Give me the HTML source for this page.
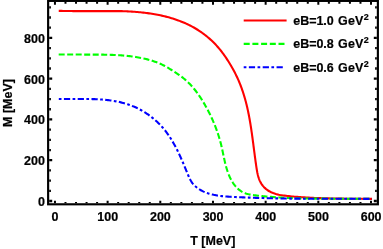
<!DOCTYPE html>
<html><head><meta charset="utf-8"><style>
html,body{margin:0;padding:0;background:#fff;}
svg{display:block;will-change:transform;}
text{font-family:"Liberation Sans",sans-serif;font-weight:bold;font-size:12px;fill:#000;stroke:#000;stroke-width:0.2px;}
</style></head><body>
<svg width="383" height="249" viewBox="0 0 383 249">
<rect width="383" height="249" fill="#fff"/>
<path d="M58.73,10.83 L60.15,10.87 L61.58,10.92 L63.01,10.95 L64.44,10.98 L65.87,11.01 L67.30,11.03 L68.74,11.05 L70.17,11.06 L71.60,11.07 L73.04,11.08 L74.47,11.08 L75.90,11.08 L77.34,11.08 L78.77,11.08 L80.21,11.08 L81.64,11.08 L83.08,11.08 L84.52,11.08 L85.95,11.08 L87.39,11.08 L88.83,11.08 L90.26,11.08 L91.70,11.08 L93.14,11.08 L94.58,11.08 L96.01,11.08 L97.45,11.08 L98.89,11.08 L100.33,11.08 L101.76,11.08 L103.20,11.08 L104.64,11.08 L106.08,11.08 L107.51,11.08 L108.95,11.08 L110.39,11.08 L111.82,11.08 L113.26,11.08 L114.70,11.08 L116.13,11.08 L117.57,11.08 L119.00,11.08 L120.44,11.09 L121.87,11.13 L123.31,11.18 L124.74,11.24 L126.17,11.30 L127.61,11.37 L129.04,11.45 L130.47,11.53 L131.90,11.62 L133.33,11.72 L134.76,11.82 L136.19,11.94 L137.62,12.06 L139.05,12.19 L140.47,12.33 L141.90,12.47 L143.32,12.63 L144.75,12.80 L146.17,12.97 L147.60,13.16 L149.02,13.36 L150.44,13.56 L151.86,13.78 L153.28,14.01 L154.69,14.25 L156.11,14.51 L157.52,14.77 L158.93,15.05 L160.33,15.34 L161.73,15.64 L163.13,15.96 L164.53,16.29 L165.92,16.63 L167.31,16.99 L168.69,17.36 L170.07,17.74 L171.45,18.15 L172.82,18.56 L174.18,18.99 L175.54,19.44 L176.89,19.91 L178.24,20.39 L179.58,20.88 L180.91,21.40 L182.24,21.93 L183.56,22.48 L184.88,23.05 L186.18,23.63 L187.48,24.23 L188.77,24.86 L190.05,25.50 L191.33,26.16 L192.59,26.84 L193.85,27.54 L195.10,28.26 L196.34,29.00 L197.57,29.76 L198.79,30.54 L199.99,31.34 L201.19,32.16 L202.37,33.00 L203.55,33.85 L204.70,34.73 L205.85,35.62 L206.98,36.53 L208.09,37.45 L209.19,38.39 L210.27,39.35 L211.33,40.32 L212.37,41.31 L213.40,42.31 L214.41,43.32 L215.40,44.35 L216.37,45.39 L217.32,46.44 L218.25,47.51 L219.16,48.59 L220.06,49.68 L220.95,50.78 L221.82,51.90 L222.67,53.03 L223.52,54.17 L224.34,55.32 L225.16,56.49 L225.97,57.66 L226.76,58.85 L227.55,60.05 L228.32,61.26 L229.09,62.48 L229.84,63.71 L230.59,64.95 L231.32,66.20 L232.04,67.46 L232.76,68.72 L233.45,70.00 L234.14,71.28 L234.81,72.57 L235.47,73.86 L236.12,75.17 L236.75,76.47 L237.36,77.79 L237.96,79.10 L238.54,80.42 L239.11,81.75 L239.66,83.08 L240.19,84.41 L240.71,85.75 L241.22,87.09 L241.71,88.43 L242.18,89.78 L242.65,91.13 L243.10,92.49 L243.53,93.85 L243.96,95.21 L244.37,96.58 L244.77,97.94 L245.15,99.32 L245.53,100.69 L245.90,102.07 L246.25,103.45 L246.59,104.83 L246.93,106.22 L247.25,107.61 L247.56,109.00 L247.87,110.39 L248.17,111.79 L248.45,113.18 L248.73,114.58 L249.01,115.99 L249.27,117.39 L249.53,118.80 L249.78,120.21 L250.02,121.62 L250.26,123.03 L250.49,124.45 L250.72,125.86 L250.94,127.28 L251.16,128.70 L251.37,130.12 L251.58,131.54 L251.79,132.96 L251.99,134.39 L252.19,135.81 L252.38,137.24 L252.57,138.67 L252.77,140.10 L252.95,141.53 L253.14,142.96 L253.33,144.39 L253.51,145.82 L253.70,147.25 L253.88,148.68 L254.07,150.11 L254.26,151.55 L254.44,152.98 L254.63,154.41 L254.82,155.85 L255.01,157.28 L255.20,158.71 L255.40,160.15 L255.60,161.58 L255.80,163.01 L256.01,164.44 L256.21,165.87 L256.43,167.31 L256.65,168.74 L256.88,170.16 L257.13,171.58 L257.40,172.99 L257.71,174.39 L258.06,175.78 L258.44,177.14 L258.89,178.49 L259.38,179.82 L259.94,181.12 L260.57,182.37 L261.27,183.59 L262.05,184.76 L262.90,185.86 L263.82,186.91 L264.80,187.91 L265.85,188.84 L266.96,189.71 L268.11,190.52 L269.32,191.26 L270.57,191.93 L271.86,192.54 L273.19,193.08 L274.54,193.56 L275.92,193.99 L277.33,194.36 L278.75,194.68 L280.19,194.97 L281.64,195.22 L283.09,195.44 L284.55,195.64 L286.00,195.82 L287.45,195.99 L288.89,196.14 L290.32,196.29 L291.75,196.43 L293.18,196.56 L294.61,196.68 L296.04,196.80 L297.46,196.91 L298.89,197.02 L300.32,197.12 L301.75,197.22 L303.17,197.32 L304.60,197.41 L306.03,197.50 L307.46,197.58 L308.89,197.66 L310.32,197.73 L311.75,197.81 L313.18,197.87 L314.61,197.94 L316.04,198.00 L317.47,198.06 L318.91,198.11 L320.34,198.16 L321.77,198.21 L323.20,198.26 L324.63,198.30 L326.07,198.34 L327.50,198.38 L328.93,198.42 L330.37,198.45 L331.80,198.48 L333.23,198.51 L334.67,198.54 L336.10,198.57 L337.54,198.59 L338.97,198.61 L340.41,198.63 L341.84,198.65 L343.28,198.67 L344.71,198.68 L346.15,198.70 L347.58,198.71 L349.02,198.73 L350.45,198.74 L351.89,198.75 L353.33,198.76 L354.76,198.77 L356.20,198.78 L357.64,198.79 L359.07,198.80 L360.51,198.81 L361.95,198.82 L363.38,198.83 L364.82,198.84 L366.26,198.85 L367.69,198.86 L369.13,198.87 L370.57,198.88 L372.00,198.90" fill="none" stroke="#ff0000" stroke-width="2.1" stroke-linejoin="round"/>
<path d="M58.68,54.57 L60.00,54.57 L61.32,54.57 L62.64,54.57 L63.95,54.57 L65.26,54.57 L66.58,54.57 L67.88,54.57 L69.19,54.57 L70.50,54.57 L71.81,54.57 L73.11,54.57 L74.42,54.57 L75.72,54.57 L77.02,54.57 L78.33,54.57 L79.63,54.57 L80.93,54.57 L82.24,54.57 L83.54,54.57 L84.84,54.58 L86.15,54.58 L87.46,54.58 L88.76,54.59 L90.07,54.59 L91.38,54.59 L92.69,54.59 L94.00,54.59 L95.31,54.60 L96.62,54.60 L97.94,54.61 L99.25,54.62 L100.56,54.63 L101.88,54.64 L103.19,54.66 L104.50,54.68 L105.82,54.70 L107.13,54.73 L108.44,54.76 L109.76,54.79 L111.07,54.84 L112.38,54.88 L113.69,54.93 L115.00,54.99 L116.31,55.06 L117.62,55.13 L118.93,55.21 L120.24,55.29 L121.55,55.38 L122.85,55.49 L124.16,55.60 L125.46,55.71 L126.76,55.84 L128.06,55.98 L129.36,56.12 L130.65,56.28 L131.95,56.45 L133.24,56.63 L134.53,56.81 L135.82,57.02 L137.11,57.23 L138.39,57.45 L139.68,57.69 L140.96,57.94 L142.23,58.20 L143.51,58.48 L144.78,58.77 L146.05,59.07 L147.32,59.39 L148.58,59.72 L149.84,60.07 L151.10,60.44 L152.35,60.82 L153.59,61.22 L154.83,61.64 L156.06,62.08 L157.28,62.54 L158.49,63.03 L159.69,63.53 L160.89,64.06 L162.07,64.61 L163.24,65.19 L164.40,65.79 L165.55,66.41 L166.68,67.05 L167.82,67.71 L168.94,68.38 L170.07,69.06 L171.18,69.75 L172.30,70.44 L173.42,71.14 L174.53,71.86 L175.63,72.58 L176.73,73.31 L177.82,74.05 L178.90,74.80 L179.97,75.57 L181.03,76.35 L182.07,77.14 L183.11,77.95 L184.12,78.78 L185.13,79.62 L186.11,80.48 L187.08,81.36 L188.03,82.25 L188.96,83.16 L189.87,84.09 L190.77,85.04 L191.65,86.00 L192.51,86.98 L193.36,87.97 L194.19,88.98 L195.01,89.99 L195.82,91.02 L196.61,92.07 L197.38,93.12 L198.15,94.18 L198.90,95.26 L199.63,96.34 L200.36,97.43 L201.08,98.53 L201.78,99.64 L202.47,100.75 L203.16,101.87 L203.83,103.00 L204.49,104.13 L205.15,105.26 L205.79,106.40 L206.43,107.54 L207.05,108.69 L207.67,109.84 L208.28,110.99 L208.88,112.15 L209.47,113.32 L210.04,114.49 L210.61,115.66 L211.17,116.84 L211.72,118.02 L212.26,119.21 L212.79,120.40 L213.31,121.59 L213.82,122.79 L214.32,123.99 L214.81,125.20 L215.29,126.41 L215.76,127.63 L216.22,128.85 L216.67,130.08 L217.10,131.31 L217.53,132.54 L217.95,133.78 L218.35,135.02 L218.75,136.27 L219.13,137.52 L219.50,138.78 L219.87,140.04 L220.22,141.30 L220.56,142.57 L220.89,143.84 L221.21,145.12 L221.51,146.40 L221.81,147.69 L222.10,148.98 L222.38,150.27 L222.66,151.57 L222.93,152.86 L223.21,154.16 L223.48,155.45 L223.75,156.75 L224.03,158.04 L224.31,159.33 L224.60,160.62 L224.89,161.90 L225.20,163.18 L225.51,164.45 L225.84,165.72 L226.19,166.98 L226.55,168.24 L226.93,169.48 L227.33,170.72 L227.75,171.95 L228.19,173.17 L228.65,174.38 L229.15,175.57 L229.67,176.76 L230.22,177.93 L230.80,179.09 L231.41,180.23 L232.06,181.36 L232.74,182.47 L233.46,183.57 L234.22,184.63 L235.02,185.67 L235.86,186.67 L236.73,187.63 L237.65,188.54 L238.61,189.40 L239.61,190.21 L240.65,190.95 L241.74,191.63 L242.87,192.23 L244.04,192.77 L245.25,193.24 L246.49,193.65 L247.75,194.01 L249.02,194.32 L250.31,194.60 L251.61,194.84 L252.92,195.04 L254.23,195.23 L255.55,195.39 L256.87,195.55 L258.19,195.69 L259.51,195.84 L260.82,195.97 L262.14,196.11 L263.46,196.23 L264.77,196.36 L266.09,196.48 L267.40,196.59 L268.72,196.70 L270.03,196.81 L271.34,196.91 L272.65,197.01 L273.97,197.11 L275.28,197.20 L276.59,197.29 L277.90,197.37 L279.21,197.45 L280.52,197.53 L281.83,197.61 L283.14,197.68 L284.44,197.74 L285.75,197.81 L287.06,197.87 L288.36,197.93 L289.67,197.98 L290.98,198.04 L292.28,198.09 L293.59,198.14 L294.89,198.18 L296.20,198.22 L297.50,198.26 L298.81,198.30 L300.11,198.33 L301.42,198.37 L302.72,198.40 L304.03,198.43 L305.33,198.45 L306.63,198.48 L307.94,198.50 L309.24,198.52 L310.54,198.54 L311.85,198.56 L313.15,198.57 L314.45,198.59 L315.76,198.60 L317.06,198.61 L318.36,198.62 L319.67,198.63 L320.97,198.64 L322.27,198.65 L323.58,198.66 L324.88,198.66 L326.19,198.67 L327.49,198.67 L328.79,198.67 L330.10,198.68 L331.40,198.68 L332.71,198.68 L334.01,198.68 L335.32,198.68 L336.62,198.68 L337.93,198.68 L339.23,198.68 L340.54,198.69 L341.85,198.69 L343.15,198.69 L344.46,198.69 L345.77,198.69 L347.07,198.69 L348.38,198.69 L349.69,198.70 L351.00,198.70 L352.31,198.71 L353.62,198.71 L354.93,198.72 L356.24,198.72 L357.55,198.73 L358.87,198.74 L360.18,198.75 L361.49,198.76 L362.80,198.77 L364.12,198.79 L365.43,198.80 L366.75,198.82 L368.07,198.84 L369.38,198.86 L370.70,198.88 L372.02,198.90" fill="none" stroke="#00ff00" stroke-width="2.1" stroke-dasharray="6 2.505" stroke-linejoin="round"/>
<path d="M58.80,98.98 L59.97,99.00 L61.14,99.02 L62.31,99.03 L63.49,99.04 L64.67,99.04 L65.85,99.04 L67.03,99.04 L68.22,99.04 L69.41,99.04 L70.61,99.04 L71.80,99.04 L73.00,99.04 L74.20,99.04 L75.40,99.04 L76.60,99.04 L77.81,99.04 L79.01,99.04 L80.22,99.04 L81.43,99.04 L82.64,99.04 L83.85,99.04 L85.06,99.04 L86.27,99.04 L87.48,99.04 L88.69,99.04 L89.90,99.04 L91.11,99.05 L92.32,99.08 L93.53,99.11 L94.74,99.16 L95.95,99.21 L97.16,99.26 L98.37,99.32 L99.57,99.39 L100.78,99.47 L101.98,99.56 L103.18,99.65 L104.38,99.76 L105.58,99.87 L106.77,99.99 L107.96,100.12 L109.15,100.27 L110.34,100.42 L111.53,100.59 L112.71,100.77 L113.89,100.95 L115.06,101.16 L116.24,101.37 L117.41,101.60 L118.57,101.84 L119.73,102.09 L120.89,102.36 L122.04,102.65 L123.19,102.94 L124.34,103.26 L125.48,103.59 L126.61,103.93 L127.74,104.30 L128.87,104.67 L129.99,105.07 L131.10,105.48 L132.21,105.92 L133.31,106.37 L134.41,106.83 L135.50,107.32 L136.59,107.82 L137.67,108.34 L138.74,108.88 L139.80,109.44 L140.86,110.01 L141.90,110.60 L142.94,111.20 L143.97,111.82 L145.00,112.46 L146.01,113.11 L147.01,113.78 L148.01,114.46 L148.99,115.15 L149.97,115.87 L150.93,116.59 L151.88,117.33 L152.82,118.09 L153.75,118.86 L154.67,119.64 L155.58,120.44 L156.47,121.25 L157.36,122.07 L158.23,122.90 L159.08,123.75 L159.93,124.61 L160.76,125.48 L161.57,126.37 L162.37,127.26 L163.16,128.17 L163.93,129.09 L164.69,130.01 L165.43,130.95 L166.16,131.90 L166.88,132.86 L167.58,133.83 L168.27,134.81 L168.95,135.80 L169.62,136.79 L170.27,137.79 L170.92,138.80 L171.55,139.82 L172.17,140.85 L172.78,141.88 L173.38,142.91 L173.97,143.96 L174.55,145.01 L175.12,146.06 L175.69,147.12 L176.24,148.18 L176.79,149.25 L177.32,150.32 L177.85,151.39 L178.37,152.46 L178.89,153.54 L179.40,154.62 L179.90,155.71 L180.39,156.79 L180.88,157.88 L181.37,158.97 L181.85,160.07 L182.33,161.16 L182.80,162.26 L183.27,163.36 L183.74,164.47 L184.20,165.58 L184.66,166.68 L185.13,167.80 L185.59,168.91 L186.04,170.03 L186.50,171.15 L186.96,172.27 L187.42,173.39 L187.89,174.52 L188.36,175.64 L188.84,176.75 L189.34,177.85 L189.87,178.94 L190.43,180.00 L191.02,181.04 L191.66,182.05 L192.34,183.03 L193.08,183.97 L193.87,184.87 L194.71,185.72 L195.61,186.53 L196.54,187.29 L197.50,188.02 L198.48,188.71 L199.47,189.36 L200.48,189.97 L201.51,190.54 L202.55,191.08 L203.61,191.59 L204.68,192.06 L205.76,192.50 L206.85,192.91 L207.96,193.30 L209.07,193.65 L210.20,193.98 L211.34,194.29 L212.48,194.57 L213.64,194.83 L214.80,195.06 L215.97,195.28 L217.15,195.48 L218.33,195.66 L219.53,195.82 L220.72,195.97 L221.92,196.10 L223.13,196.22 L224.34,196.33 L225.55,196.43 L226.76,196.53 L227.98,196.61 L229.20,196.69 L230.41,196.76 L231.63,196.83 L232.85,196.89 L234.07,196.95 L235.29,197.02 L236.50,197.08 L237.72,197.13 L238.93,197.19 L240.14,197.25 L241.36,197.30 L242.57,197.36 L243.78,197.41 L244.99,197.46 L246.20,197.51 L247.41,197.56 L248.62,197.60 L249.82,197.65 L251.03,197.69 L252.24,197.74 L253.44,197.78 L254.64,197.82 L255.85,197.86 L257.05,197.90 L258.25,197.93 L259.46,197.97 L260.66,198.01 L261.86,198.04 L263.06,198.07 L264.26,198.10 L265.46,198.14 L266.66,198.17 L267.86,198.19 L269.05,198.22 L270.25,198.25 L271.45,198.28 L272.65,198.30 L273.84,198.33 L275.04,198.35 L276.23,198.37 L277.43,198.39 L278.62,198.41 L279.82,198.43 L281.01,198.45 L282.21,198.47 L283.40,198.49 L284.59,198.51 L285.79,198.52 L286.98,198.54 L288.17,198.55 L289.36,198.57 L290.56,198.58 L291.75,198.59 L292.94,198.61 L294.13,198.62 L295.32,198.63 L296.51,198.64 L297.71,198.65 L298.90,198.66 L300.09,198.67 L301.28,198.67 L302.47,198.68 L303.66,198.69 L304.85,198.70 L306.04,198.70 L307.24,198.71 L308.43,198.71 L309.62,198.72 L310.81,198.72 L312.00,198.73 L313.19,198.73 L314.38,198.74 L315.58,198.74 L316.77,198.74 L317.96,198.75 L319.15,198.75 L320.35,198.75 L321.54,198.76 L322.73,198.76 L323.92,198.76 L325.12,198.76 L326.31,198.76 L327.51,198.76 L328.70,198.77 L329.90,198.77 L331.09,198.77 L332.29,198.77 L333.48,198.77 L334.68,198.77 L335.88,198.77 L337.07,198.77 L338.27,198.78 L339.47,198.78 L340.67,198.78 L341.86,198.78 L343.06,198.78 L344.26,198.78 L345.46,198.79 L346.67,198.79 L347.87,198.79 L349.07,198.79 L350.27,198.79 L351.48,198.80 L352.68,198.80 L353.88,198.80 L355.09,198.81 L356.29,198.81 L357.50,198.81 L358.71,198.82 L359.92,198.82 L361.13,198.83 L362.33,198.83 L363.54,198.84 L364.76,198.85 L365.97,198.85 L367.18,198.86 L368.39,198.87 L369.61,198.88 L370.82,198.88 L372.04,198.89" fill="none" stroke="#0000ff" stroke-width="2.1" stroke-dasharray="2.7 2.416 6.25 2.416" stroke-linejoin="round"/>
<path d="M54.95,203.23v-2.40M54.95,1.98v2.75M65.48,203.23v-1.25M65.48,1.98v1.80M76.02,203.23v-1.25M76.02,1.98v1.80M86.56,203.23v-1.25M86.56,1.98v1.80M97.09,203.23v-1.25M97.09,1.98v1.80M107.62,203.23v-2.40M107.62,1.98v2.75M118.16,203.23v-1.25M118.16,1.98v1.80M128.69,203.23v-1.25M128.69,1.98v1.80M139.23,203.23v-1.25M139.23,1.98v1.80M149.77,203.23v-1.25M149.77,1.98v1.80M160.30,203.23v-2.40M160.30,1.98v2.75M170.84,203.23v-1.25M170.84,1.98v1.80M181.37,203.23v-1.25M181.37,1.98v1.80M191.91,203.23v-1.25M191.91,1.98v1.80M202.44,203.23v-1.25M202.44,1.98v1.80M212.98,203.23v-2.40M212.98,1.98v2.75M223.51,203.23v-1.25M223.51,1.98v1.80M234.05,203.23v-1.25M234.05,1.98v1.80M244.58,203.23v-1.25M244.58,1.98v1.80M255.12,203.23v-1.25M255.12,1.98v1.80M265.65,203.23v-2.40M265.65,1.98v2.75M276.19,203.23v-1.25M276.19,1.98v1.80M286.72,203.23v-1.25M286.72,1.98v1.80M297.26,203.23v-1.25M297.26,1.98v1.80M307.79,203.23v-1.25M307.79,1.98v1.80M318.32,203.23v-2.40M318.32,1.98v2.75M328.86,203.23v-1.25M328.86,1.98v1.80M339.40,203.23v-1.25M339.40,1.98v1.80M349.93,203.23v-1.25M349.93,1.98v1.80M360.47,203.23v-1.25M360.47,1.98v1.80M371.00,203.23v-2.40M371.00,1.98v2.75" stroke="#000" stroke-width="2.0" fill="none"/>
<path d="M49.21,201.00h3.00M376.81,201.00h-3.00M49.21,190.81h1.70M376.81,190.81h-1.70M49.21,180.61h1.70M376.81,180.61h-1.70M49.21,170.42h1.70M376.81,170.42h-1.70M49.21,160.22h3.00M376.81,160.22h-3.00M49.21,150.03h1.70M376.81,150.03h-1.70M49.21,139.84h1.70M376.81,139.84h-1.70M49.21,129.64h1.70M376.81,129.64h-1.70M49.21,119.45h3.00M376.81,119.45h-3.00M49.21,109.26h1.70M376.81,109.26h-1.70M49.21,99.06h1.70M376.81,99.06h-1.70M49.21,88.87h1.70M376.81,88.87h-1.70M49.21,78.67h3.00M376.81,78.67h-3.00M49.21,68.48h1.70M376.81,68.48h-1.70M49.21,58.29h1.70M376.81,58.29h-1.70M49.21,48.09h1.70M376.81,48.09h-1.70M49.21,37.90h3.00M376.81,37.90h-3.00M49.21,27.71h1.70M376.81,27.71h-1.70M49.21,17.51h1.70M376.81,17.51h-1.70M49.21,7.32h1.70M376.81,7.32h-1.70" stroke="#000" stroke-width="2.3" fill="none"/>
<rect x="48.13" y="0.9" width="329.75" height="203.4" fill="none" stroke="#000" stroke-width="2.15"/>
<text transform="translate(55.05,221.10) scale(1.04,1)" text-anchor="middle">0</text><text transform="translate(107.72,221.10) scale(1.04,1)" text-anchor="middle">100</text><text transform="translate(160.40,221.10) scale(1.04,1)" text-anchor="middle">200</text><text transform="translate(213.08,221.10) scale(1.04,1)" text-anchor="middle">300</text><text transform="translate(265.75,221.10) scale(1.04,1)" text-anchor="middle">400</text><text transform="translate(318.43,221.10) scale(1.04,1)" text-anchor="middle">500</text><text transform="translate(371.10,221.10) scale(1.04,1)" text-anchor="middle">600</text>
<text transform="translate(44.85,205.95) scale(1.04,1)" text-anchor="end">0</text><text transform="translate(44.85,165.17) scale(1.04,1)" text-anchor="end">200</text><text transform="translate(44.85,124.40) scale(1.04,1)" text-anchor="end">400</text><text transform="translate(44.85,83.62) scale(1.04,1)" text-anchor="end">600</text><text transform="translate(44.85,42.85) scale(1.04,1)" text-anchor="end">800</text>
<text transform="translate(212.80,245.20) scale(1.04,1)" text-anchor="middle">T [MeV]</text>
<text transform="translate(12.30,103.00) rotate(-90) scale(1.04,1)" text-anchor="middle">M [MeV]</text>
<path d="M243.7,20.55H286.6" stroke="#ff0000" stroke-width="2.1" fill="none"/><text transform="translate(293.20,24.75) scale(1.04,1)" text-anchor="start" font-size="11.3">eB=1.0<tspan dx="4.1" letter-spacing="0.2">GeV</tspan><tspan font-size="8.6" dy="-5.0" dx="0.2">2</tspan></text><path d="M243.7,43.9H286.6" stroke="#00ff00" stroke-width="2.1" fill="none" stroke-dasharray="6 2.7"/><text transform="translate(293.20,48.10) scale(1.04,1)" text-anchor="start" font-size="11.3">eB=0.8<tspan dx="4.1" letter-spacing="0.2">GeV</tspan><tspan font-size="8.6" dy="-5.0" dx="0.2">2</tspan></text><path d="M243.7,67.3H282.9" stroke="#0000ff" stroke-width="2.1" fill="none" stroke-dasharray="2.7 2.45 6.25 2.45"/><text transform="translate(293.20,71.50) scale(1.04,1)" text-anchor="start" font-size="11.3">eB=0.6<tspan dx="4.1" letter-spacing="0.2">GeV</tspan><tspan font-size="8.6" dy="-5.0" dx="0.2">2</tspan></text>
</svg>
</body></html>
